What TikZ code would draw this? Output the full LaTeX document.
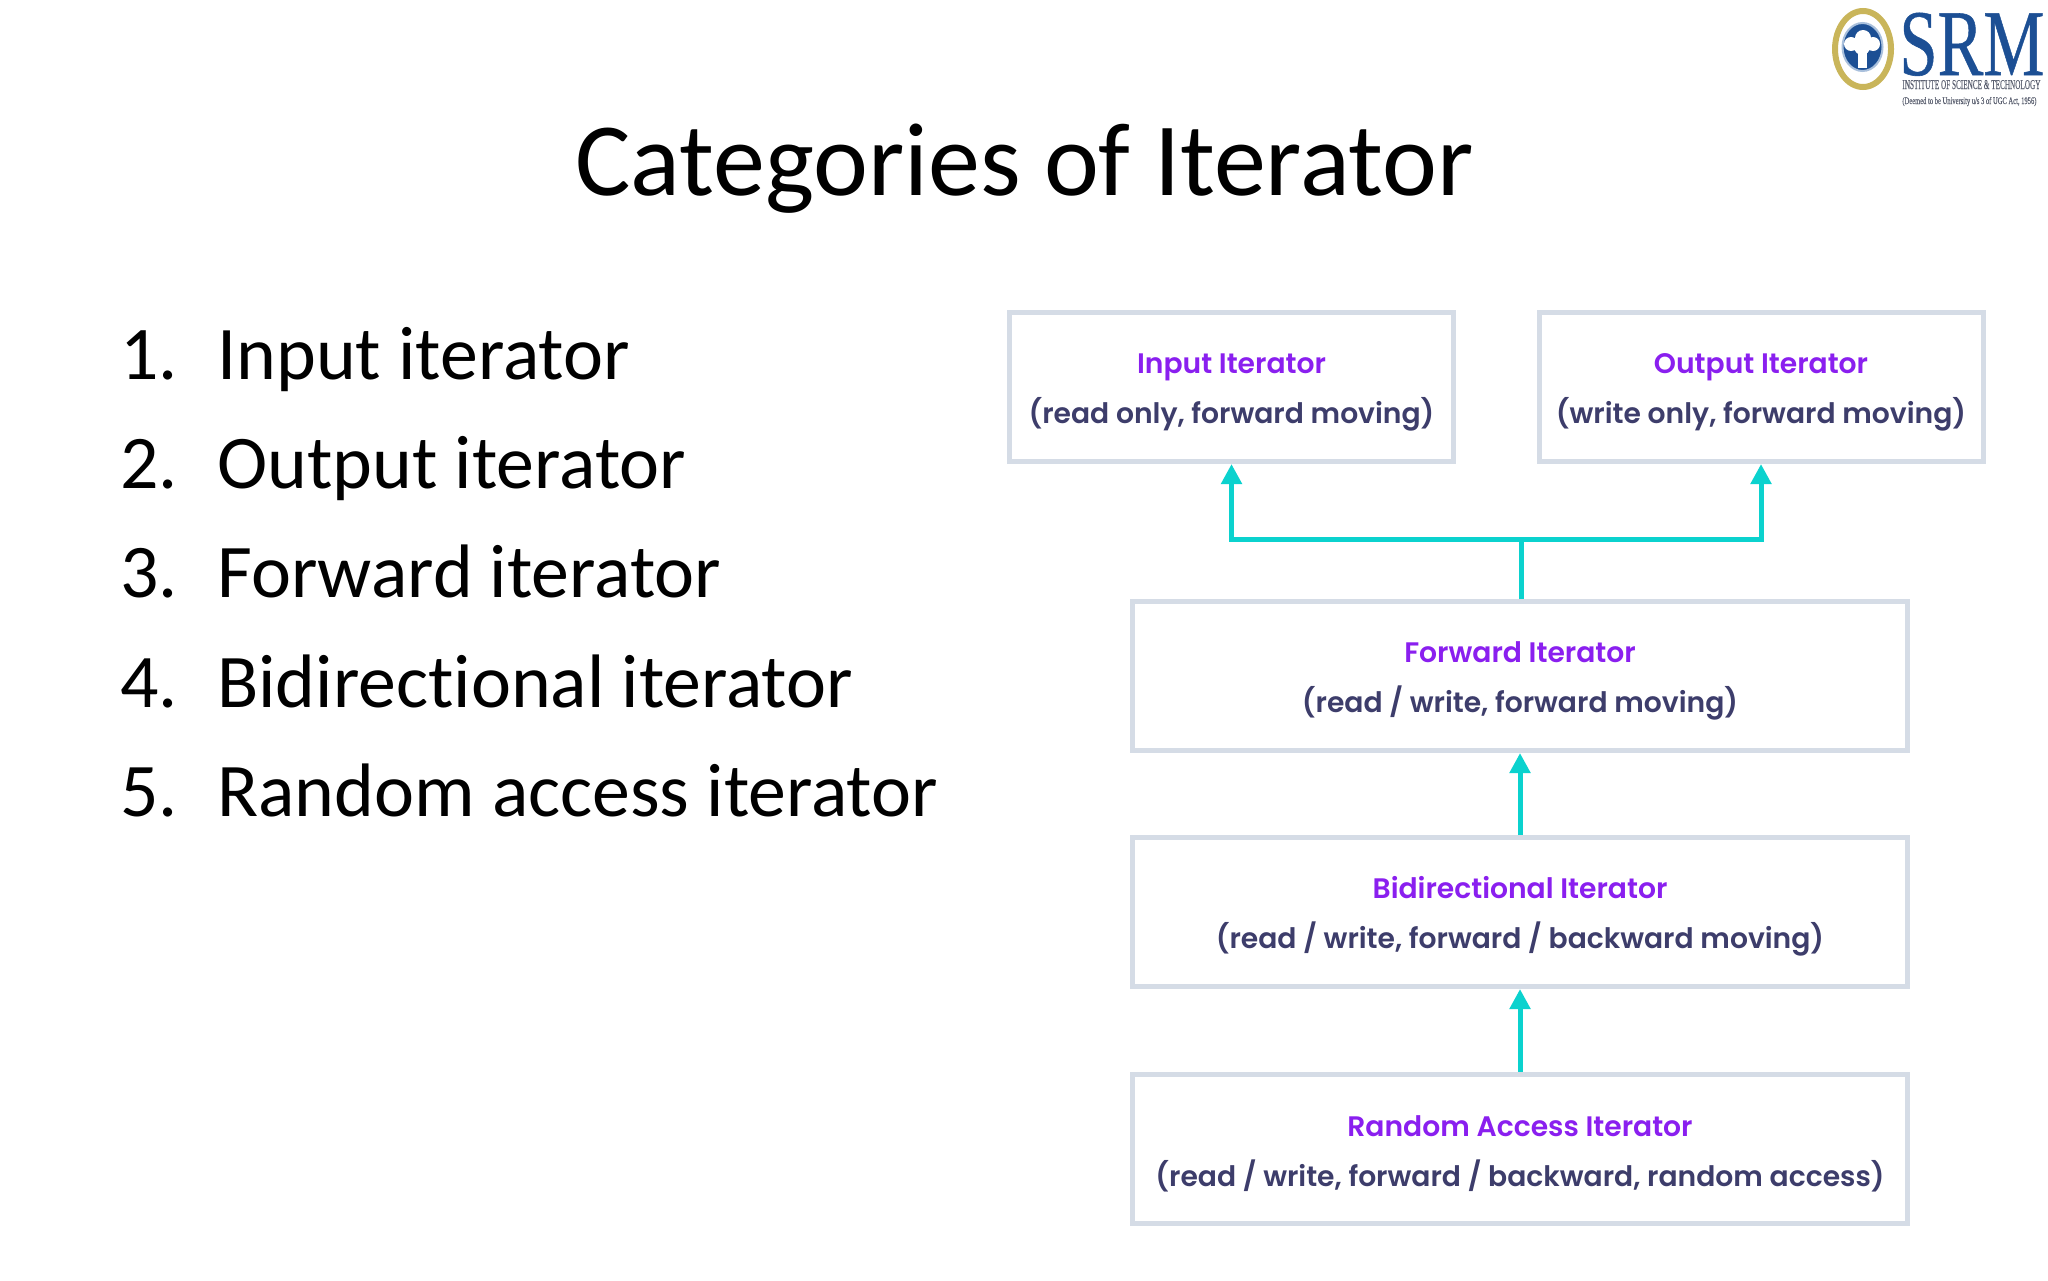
\documentclass[tikz,border=0pt]{standalone}
\usepackage{fontspec}
\setmainfont{Carlito}[RawFeature=-liga]
\newfontfamily\boxfont{Poppins SemiBold}
\newfontfamily\logofont{Liberation Serif}[FakeBold=0.6]
\usetikzlibrary{positioning,arrows.meta,shapes.geometric}
\definecolor{boxline}{HTML}{D5DCE6}
\definecolor{flowline}{HTML}{0BD2CE}
\definecolor{headtext}{HTML}{8A1FEF}
\definecolor{subtext}{HTML}{3D3D6B}
\definecolor{logoblue}{HTML}{1C4F94}
\definecolor{logogold}{HTML}{C9B55A}
\definecolor{logogray}{HTML}{5B6070}
\definecolor{logopale}{HTML}{A9C0DC}
\tikzset{
  iterbox/.style={draw=boxline,line width=2.5pt,fill=white,inner sep=0pt,align=center,
    minimum height=74.5pt,font=\boxfont\fontsize{14.1}{25}\selectfont},
  smallbox/.style={iterbox,minimum width=222pt},
  widebox/.style={iterbox,minimum width=387.5pt},
  flow/.style={draw=flowline,line width=2.5pt},
  flowhead/.style={flow,-{Triangle[length=10pt,width=10pt]}},
  listnum/.style={anchor=base west,font=\fontsize{37.9}{40}\selectfont,inner sep=0pt},
  logotext/.style={anchor=base west,inner sep=0pt,text=logogray,font=\logofont\fontsize{5}{5}\selectfont},
}
\newcommand{\itemhead}[1]{\rule{0pt}{15.5pt}\textcolor{headtext}{#1}}
\newcommand{\itemsub}[1]{\textcolor{subtext}{#1}}
\begin{document}
\begin{tikzpicture}[x=0.5pt,y=-0.5pt]
\useasboundingbox (0,0) rectangle (2048,1280);
% title and list
\node[anchor=base,inner sep=0pt,font=\fontsize{52}{54}\selectfont] (title) at (1024.5,195) {Categories of Iterator};
\foreach \n/\txt/\y in {1/Input iterator/379,2/Output iterator/488,3/Forward iterator/597,4/Bidirectional iterator/707,5/Random access iterator/816}{
  \node[listnum] (num\n) at (120,\y) {\n.};
  \node[listnum] (item\n) at (217,\y) {\txt};
}
% boxes
\node[smallbox] (input) at (1231.5,387) {\itemhead{Input Iterator}\\\itemsub{(read only, forward moving)}};
\node[smallbox] (output) at (1761,387) {\itemhead{Output Iterator}\\\itemsub{(write only, forward moving)}};
\node[widebox] (forward) at (1520,676) {\itemhead{Forward Iterator}\\\itemsub{(read / write, forward moving)}};
\node[widebox] (bidir) at (1520,912) {\itemhead{Bidirectional Iterator}\\\itemsub{(read / write, forward / backward moving)}};
\node[widebox] (random) at (1520,1148.5) {\itemhead{Random Access Iterator}\\\itemsub{(read / write, forward / backward, random access)}};
% arrows
\coordinate (fork) at (1521,539);
\draw[flow] (forward.north -| fork) -- (fork);
\draw[flowhead] (fork) -| (input.south);
\draw[flowhead] (fork) -| (output.south);
\draw[flowhead] (bidir.north) -- (forward.south);
\draw[flowhead] (random.north) -- (bidir.south);
% logo
\node[draw=logogold,line width=3pt,fill=white,ellipse,minimum width=28pt,minimum height=38pt,inner sep=0pt] (seal) at (1863,49) {};
\node[ellipse,draw=logopale,line width=1pt,fill=logoblue,minimum width=20pt,minimum height=24pt,inner sep=0pt] (sealin) at (1862.5,47) {};
\fill[white] (1851,44) circle[radius=7] (1863,38) circle[radius=8] (1873,44) circle[radius=7] (1862,47) circle[radius=8];
\fill[white] (1858,50) rectangle (1867,68);
\node[anchor=base west,inner sep=0pt,text=logoblue,font=\logofont\fontsize{47}{47}\selectfont] (srm) at (1899,75) {\scalebox{.73}[1]{SRM}};
\node[logotext] (inst) at (1902,89) {\resizebox{69pt}{4.5pt}{INSTITUTE OF SCIENCE \& TECHNOLOGY}};
\node[logotext] (deemed) at (1902,104) {\resizebox{67pt}{3.5pt}{(Deemed to be University u/s 3 of UGC Act, 1956)}};
\end{tikzpicture}
\end{document}
